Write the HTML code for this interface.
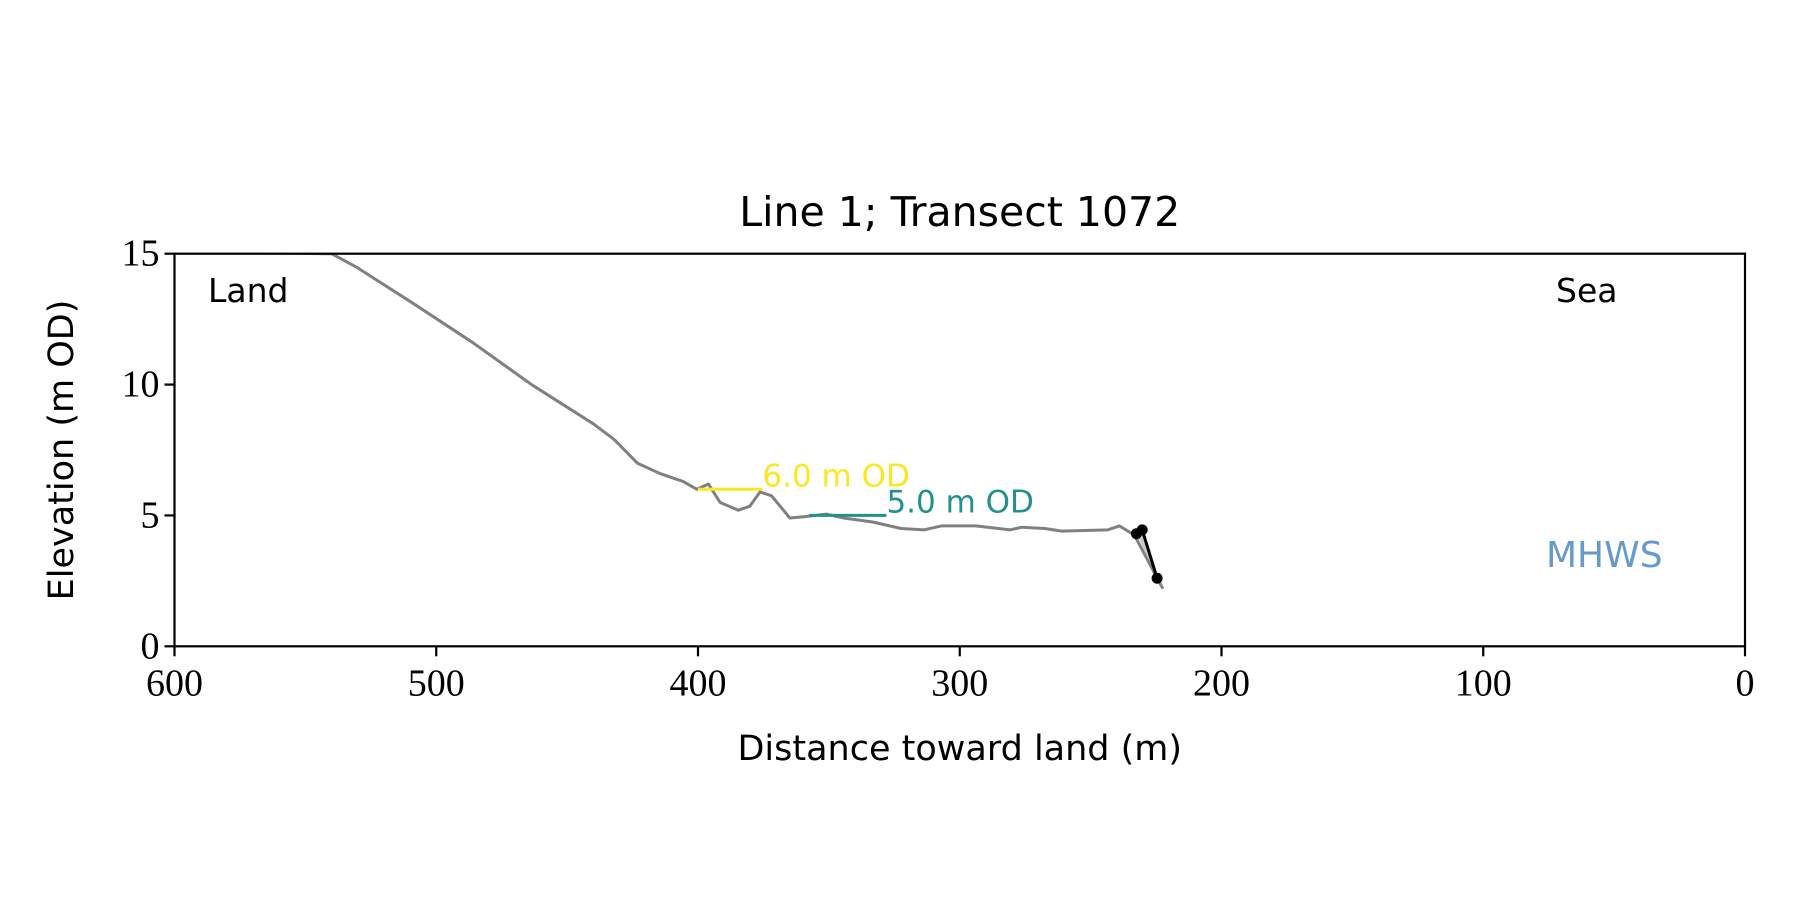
<!DOCTYPE html>
<html><head><meta charset="utf-8"><style>
html,body{margin:0;padding:0;background:#fff}
svg{display:block}
.sans{font-family:"DejaVu Sans","Liberation Sans",sans-serif}
.serif{font-family:"Liberation Serif","DejaVu Serif",serif}
</style></head><body>
<svg id="chart" width="1800" height="900" viewBox="0 0 1800 900">
<g id="plot"></g>
</svg>
<script>
const profileDist=[600,585,540,530.7,508.8,486,463.6,440,432,423.2,414.5,405.7,400.4,396,391.6,384.6,380.2,376.3,371.9,364.9,359.6,350.9,344.3,333.3,322.4,313.6,307,293.9,280.7,276.3,267.5,261,243.4,239,233.3,222.4];
const profileElev=[15.05,15.05,15,14.5,13.1,11.6,10.0,8.5,7.9,7.0,6.6,6.3,6.0,6.2,5.5,5.2,5.35,5.9,5.75,4.9,4.95,5.05,4.9,4.75,4.5,4.45,4.6,4.6,4.45,4.55,4.5,4.4,4.45,4.6,4.25,2.2];
const pickDist=[232.5,230.3,224.6];
const pickElev=[4.3,4.45,2.6];
const contourLevels=[6.0,5.0];
const contourStart=[400,357.5];
const contourEnd=[375.4,328];
const contourLabels=["6.0 m OD","5.0 m OD"];
const contourColors=["#fde725","#21918c"];
const xTicks=[600,500,400,300,200,100,0];
const yTicks=[0,5,10,15];

const L=174.5,R=1745,T=253.7,B=646.3;
const X=d=>L+(600-d)/600*(R-L);
const Y=e=>B-e/15*(B-T);
const NS="http://www.w3.org/2000/svg";
const g=document.getElementById('plot');
function mk(tag,attrs,parent){const e=document.createElementNS(NS,tag);for(const k in attrs)e.setAttribute(k,attrs[k]);(parent||g).appendChild(e);return e;}

const defs=mk('defs',{});
const cp=mk('clipPath',{id:'clip'},defs);
mk('rect',{x:L,y:T,width:R-L,height:B-T},cp);

const prof=mk('polyline',{points:profileDist.map((d,i)=>X(d)+','+Y(profileElev[i])).join(' '),fill:'none',stroke:'#808080','stroke-width':3,'stroke-linejoin':'round','clip-path':'url(#clip)'});



const shade=mk('polygon',{points:pickDist.map((d,i)=>X(d)+','+Y(pickElev[i])).join(' ')+' '+X(222.4)+','+Y(2.2),fill:'#c8c8c8'});



contourLevels.forEach((lv,i)=>{
  const ln=mk('line',{x1:X(contourStart[i]),x2:X(contourEnd[i]),y1:Y(lv),y2:Y(lv),stroke:contourColors[i],'stroke-width':3});
  
  
  const t=mk('text',{x:X(contourEnd[i]),y:Y(lv)-3,fill:contourColors[i],'font-size':31,class:'sans'});
  t.textContent=contourLabels[i];
  
  
});

const pk=mk('polyline',{points:pickDist.map((d,i)=>X(d)+','+Y(pickElev[i])).join(' '),fill:'none',stroke:'#000','stroke-width':3});


pickDist.forEach((d,i)=>{
  const c=mk('circle',{cx:X(d),cy:Y(pickElev[i]),r:5.5,fill:'#000'});
  
  
});

const fr=mk('rect',{x:L,y:T,width:R-L,height:B-T,fill:'none',stroke:'#000','stroke-width':2.2});



xTicks.forEach(v=>{
  const tk=mk('line',{x1:X(v),x2:X(v),y1:B,y2:B+10,stroke:'#000','stroke-width':2.2});
  
  
  const t=mk('text',{x:X(v),y:B+49,'text-anchor':'middle','font-size':38,class:'serif'});
  t.textContent=v;
  
  
});
yTicks.forEach(v=>{
  const tk=mk('line',{x1:L-10,x2:L,y1:Y(v),y2:Y(v),stroke:'#000','stroke-width':2.2});
  
  
  const t=mk('text',{x:L-15,y:Y(v)+12,'text-anchor':'end','font-size':38,class:'serif'});
  t.textContent=v;
  
  
});

function txt(s,attrs,name){const t=mk('text',attrs);t.textContent=s;return t;}
txt('Line 1; Transect 1072',{x:(L+R)/2,y:226,'text-anchor':'middle','font-size':41,class:'sans'},'chart-title');
txt('Distance toward land (m)',{x:(L+R)/2,y:760,'text-anchor':'middle','font-size':35,class:'sans'},'x-axis-title');
txt('Elevation (m OD)',{x:0,y:0,'text-anchor':'middle','font-size':35,class:'sans',transform:'translate(73,'+((T+B)/2)+') rotate(-90)'},'y-axis-title');
txt('Land',{x:208,y:302,'font-size':33,class:'sans'},'land-label');
txt('Sea',{x:1556,y:302,'font-size':33,class:'sans'},'sea-label');
txt('MHWS',{x:1546,y:567,'font-size':36,fill:'#6699cc',class:'sans'},'mhws-label');
</script>
</body></html>
